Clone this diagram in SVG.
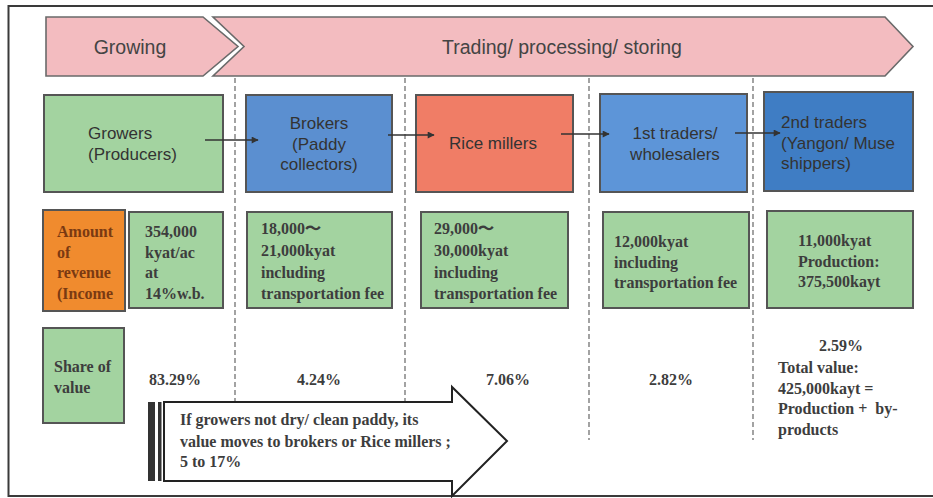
<svg xmlns="http://www.w3.org/2000/svg" width="933" height="498" viewBox="0 0 933 498">
<defs>
<style>
.sans{font-family:"Liberation Sans",Arial,sans-serif;font-size:17px;fill:#333}
.ban{font-family:"Liberation Sans",Arial,sans-serif;font-size:19.5px;fill:#444}
.ser{font-family:"Liberation Serif","Times New Roman",serif;font-size:16px;font-weight:bold;fill:#3d3d3d}
.box{stroke:#555;stroke-width:2}
.g{fill:#a3d3a0}
.dash{stroke:#666;stroke-width:1.2;stroke-dasharray:5 3;fill:none}
.conn{stroke:#333;stroke-width:1.6;fill:none;marker-end:url(#ah)}
</style>
<marker id="ah" viewBox="0 0 10 10" refX="9" refY="5" markerWidth="8" markerHeight="7" markerUnits="userSpaceOnUse" orient="auto">
<path d="M0,0 L10,5 L0,10 Z" fill="#333"/>
</marker>
</defs>
<rect x="0" y="0" width="933" height="498" fill="#ffffff"/>
<rect x="8.5" y="6" width="940" height="490" fill="none" stroke="#3a3a3a" stroke-width="2"/>

<g id="banner">
<path d="M46,17 L203,17 L238,46.5 L203,76 L46,76 Z" fill="#f3bcc0" stroke="#6a6a6a" stroke-width="1.6"/>
<path d="M213,17 L885,17 L913,46.5 L885,76 L213,76 L244,46.5 Z" fill="#f3bcc0" stroke="#6a6a6a" stroke-width="1.6"/>
<text class="ban" x="130" y="54" text-anchor="middle">Growing</text>
<text class="ban" x="562" y="54" text-anchor="middle">Trading/ processing/ storing</text>
</g>

<g id="dividers">
<line class="dash" x1="235" y1="78" x2="235" y2="440"/>
<line class="dash" x1="405" y1="78" x2="405" y2="440"/>
<line class="dash" x1="589" y1="78" x2="589" y2="440"/>
<line class="dash" x1="753" y1="78" x2="753" y2="440"/>
</g>

<g id="growers">
<rect class="box g" x="44" y="95" width="179" height="97"/>
<text class="sans" x="88" y="139">Growers</text>
<text class="sans" x="88" y="160">(Producers)</text>
</g>
<g id="brokers">
<rect class="box" x="246" y="95" width="146" height="97" fill="#5b8fd0"/>
<text class="sans" x="319" y="129" text-anchor="middle">Brokers</text>
<text class="sans" x="319" y="150" text-anchor="middle">(Paddy</text>
<text class="sans" x="319" y="170" text-anchor="middle">collectors)</text>
</g>
<g id="millers">
<rect class="box" x="416" y="95" width="157" height="97" fill="#f07d66"/>
<text class="sans" x="493" y="149" text-anchor="middle">Rice millers</text>
</g>
<g id="traders1">
<rect class="box" x="600" y="94" width="147" height="98" fill="#5d95d8"/>
<text class="sans" x="675" y="139" text-anchor="middle">1st traders/</text>
<text class="sans" x="675" y="160" text-anchor="middle">wholesalers</text>
</g>
<g id="traders2">
<rect class="box" x="764" y="92" width="149" height="99" fill="#3f7dc4"/>
<text class="sans" x="781" y="128">2nd traders</text>
<text class="sans" x="781" y="149">(Yangon/ Muse</text>
<text class="sans" x="781" y="169">shippers)</text>
</g>

<g id="connectors">
<line class="conn" x1="205" y1="140" x2="258" y2="140"/>
<line class="conn" x1="388" y1="135" x2="434" y2="135"/>
<line class="conn" x1="561" y1="134" x2="609" y2="134"/>
<line class="conn" x1="735" y1="133" x2="780" y2="133"/>
</g>

<g id="revenue-label">
<rect class="box" x="43" y="210" width="82" height="101" fill="#f08b2e"/>
<text class="ser" x="57" y="237" style="fill:#7a3a12">Amount</text>
<text class="ser" x="57" y="258" style="fill:#7a3a12">of</text>
<text class="ser" x="57" y="278" style="fill:#7a3a12">revenue</text>
<text class="ser" x="57" y="299" style="fill:#7a3a12">(Income</text>
</g>
<g id="rev-growers">
<rect class="box g" x="129" y="212" width="94" height="96"/>
<text class="ser" x="145" y="237">354,000</text>
<text class="ser" x="145" y="258">kyat/ac</text>
<text class="ser" x="145" y="278">at</text>
<text class="ser" x="145" y="299">14%w.b.</text>
</g>
<g id="rev-brokers">
<rect class="box g" x="247" y="212" width="145" height="96"/>
<text class="ser" x="261" y="234">18,000〜</text>
<text class="ser" x="261" y="256">21,000kyat</text>
<text class="ser" x="261" y="278">including</text>
<text class="ser" x="261" y="299">transportation fee</text>
</g>
<g id="rev-millers">
<rect class="box g" x="421" y="212" width="147" height="96"/>
<text class="ser" x="434" y="234">29,000〜</text>
<text class="ser" x="434" y="256">30,000kyat</text>
<text class="ser" x="434" y="278">including</text>
<text class="ser" x="434" y="299">transportation fee</text>
</g>
<g id="rev-traders1">
<rect class="box g" x="603" y="212" width="146" height="96"/>
<text class="ser" x="614" y="247">12,000kyat</text>
<text class="ser" x="614" y="268">including</text>
<text class="ser" x="614" y="288">transportation fee</text>
</g>
<g id="rev-traders2">
<rect class="box g" x="767" y="211" width="146" height="97"/>
<text class="ser" x="798" y="246">11,000kyat</text>
<text class="ser" x="798" y="267">Production:</text>
<text class="ser" x="798" y="287">375,500kayt</text>
</g>

<g id="share-label">
<rect class="box g" x="43" y="328" width="81" height="95"/>
<text class="ser" x="54" y="372">Share of</text>
<text class="ser" x="54" y="393">value</text>
</g>
<g id="shares">
<text class="ser" x="149" y="385">83.29%</text>
<text class="ser" x="319" y="385" text-anchor="middle">4.24%</text>
<text class="ser" x="508" y="385" text-anchor="middle">7.06%</text>
<text class="ser" x="671" y="385" text-anchor="middle">2.82%</text>
<text class="ser" x="841" y="351" text-anchor="middle">2.59%</text>
<text class="ser" x="778" y="373">Total value:</text>
<text class="ser" x="778" y="394">425,000kayt =</text>
<text class="ser" x="778" y="414" xml:space="preserve">Production +  by-</text>
<text class="ser" x="778" y="435">products</text>
</g>

<g id="note-arrow">
<rect x="148" y="402" width="7" height="79" fill="#333"/>
<rect x="158" y="402" width="3.5" height="79" fill="#333"/>
<path d="M164,402 L452,402 L452,387 L507,441 L452,496 L452,481 L164,481 Z" fill="#ffffff" stroke="#222" stroke-width="2"/>
<text class="ser" x="180" y="425">If growers not dry/ clean paddy, its</text>
<text class="ser" x="180" y="447">value moves to brokers or Rice millers ;</text>
<text class="ser" x="180" y="467">5 to 17%</text>
</g>
</svg>
